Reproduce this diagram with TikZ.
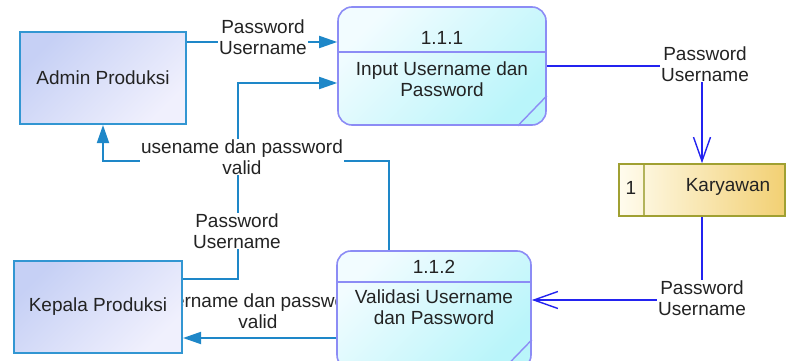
\documentclass[tikz,border=0pt]{standalone}
\usepackage{fontspec}
\setmainfont{Liberation Sans}
\usetikzlibrary{arrows.meta,backgrounds}
\definecolor{txt}{RGB}{35,35,35}
\definecolor{extborder}{RGB}{50,150,210}
\definecolor{extA}{RGB}{198,208,245}
\definecolor{extB}{RGB}{240,240,253}
\definecolor{procborder}{RGB}{140,140,245}
\definecolor{procA}{RGB}{242,252,255}
\definecolor{procB}{RGB}{185,245,250}
\definecolor{storeborder}{RGB}{160,160,50}
\definecolor{storeA}{RGB}{255,252,238}
\definecolor{storeB}{RGB}{242,208,115}
\definecolor{flowA}{RGB}{30,135,200}
\definecolor{flowB}{RGB}{35,35,240}
\tikzset{
  extbox/.style={draw=extborder, line width=2pt, top color=extA, bottom color=extB, shading angle=45,
    minimum width=166pt, minimum height=92pt, inner sep=0pt},
  procbox/.style={draw=procborder, line width=1.6pt, rounded corners=14pt, top color=procA, bottom color=procB, shading angle=45,
    inner sep=0pt},
  storebox/.style={draw=storeborder, line width=1.6pt, left color=storeA, right color=storeB,
    minimum width=166pt, minimum height=52pt, inner sep=0pt},
  lbl/.style={fill=white, align=center, inner sep=1pt},
  extflow/.style={draw=flowA, line width=1.8pt, -{Triangle[length=18pt,width=12pt]}},
  storeflow/.style={draw=flowB, line width=1.4pt, -{Straight Barb[length=24pt,width=17pt,line width=1.4pt]}},
}
\begin{document}
\begin{tikzpicture}[x=1pt,y=-1pt, font=\fontsize{19}{21}\selectfont, text=txt]
\useasboundingbox (0,0) rectangle (787,361);
\clip (0,0) rectangle (787,361);

% external entities
\node[extbox] (admin) at (103,78) {Admin Produksi};
\node[extbox, minimum width=168pt] (kepala) at (98,307) {Kepala Produksi};

% processes
\node[procbox, minimum width=208pt, minimum height=118pt] (p1) at (442,66) {};
\draw[procborder, line width=1.4pt] (p1.west |- 0,52) -- (p1.east |- 0,52);
\draw[procborder, line width=1.4pt] ([xshift=-29pt]p1.south east) -- ([yshift=30pt]p1.south east);
\node (p1n) at (442,38) {1.1.1};
\node[align=center] (p1t) at (442,79) {Input Username dan\\Password};

\node[procbox, minimum width=194pt, minimum height=118pt] (p2) at (434,310) {};
\draw[procborder, line width=1.4pt] (p2.west |- 0,282) -- (p2.east |- 0,282);
\draw[procborder, line width=1.4pt] ([xshift=-29pt]p2.south east) -- ([yshift=30pt]p2.south east);
\node (p2n) at (434,267) {1.1.2};
\node[align=center] (p2t) at (434,307.5) {Validasi Username\\dan Password};

% data store
\node[storebox] (store) at (702,190) {};
\draw[storeborder!80, line width=2pt] (644,165) -- (644,215);
\node (storen) at (631,188) {1};
\node (storet) at (728,187) {Karyawan};

\begin{scope}[on background layer]
  % label partly hidden under the boxes
  \node[align=center, inner sep=1pt] (l4) at (258,311) {username dan password\\valid};

  \coordinate (c1) at ([yshift=24pt]p1.west);
  \coordinate (c2) at ([yshift=-17pt]p1.west);
  \coordinate (b2) at (238,83);
  \coordinate (b3) at (389,161);
  \coordinate (c4) at ([yshift=-28pt]p2.west);
  \coordinate (c6) at ([yshift=10pt]p2.east);

  \draw[extflow] (admin.east |- c1) -- (c1);
  \draw[extflow] ([yshift=-19pt]kepala.north east) -| (b2) -- (c2);
  \draw[extflow] ([xshift=-45pt]p2.north) -- (b3) -| (admin.south);
  \draw[extflow] (c4) -- (kepala.east |- c4);
  \draw[storeflow] (p1.east) -| (store.north);
  \draw[storeflow] (store.south) |- (c6);

  \node[lbl] (l1) at (263,37) {Password\\Username};
  \node[lbl] (l2) at (237,231) {Password\\Username};
  \node[lbl] (l3) at (242,157) {usename dan password\\valid};
  \node[lbl] (l5) at (705,64) {Password\\Username};
  \node[lbl] (l6) at (702,298) {Password\\Username};
\end{scope}
\end{tikzpicture}
\end{document}
